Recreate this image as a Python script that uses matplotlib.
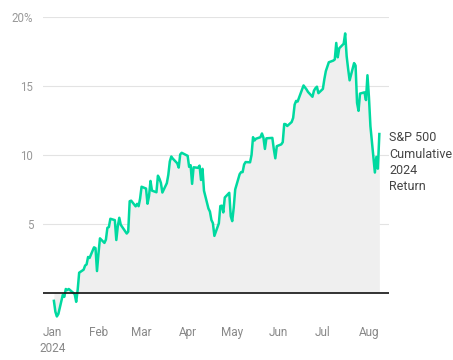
import matplotlib
matplotlib.use("Agg")
import matplotlib.pyplot as plt
import pandas as pd

plt.rcParams['font.family'] = ['Roboto', 'DejaVu Sans']

dates = [
    "2024-01-02", "2024-01-03", "2024-01-04", "2024-01-05", "2024-01-08", "2024-01-09",
    "2024-01-10", "2024-01-11", "2024-01-12", "2024-01-16", "2024-01-17", "2024-01-18",
    "2024-01-19", "2024-01-22", "2024-01-23", "2024-01-24", "2024-01-25", "2024-01-26",
    "2024-01-29", "2024-01-30", "2024-01-31", "2024-02-01", "2024-02-02", "2024-02-05",
    "2024-02-06", "2024-02-07", "2024-02-08", "2024-02-09", "2024-02-12", "2024-02-13",
    "2024-02-14", "2024-02-15", "2024-02-16", "2024-02-20", "2024-02-21", "2024-02-22",
    "2024-02-23", "2024-02-26", "2024-02-27", "2024-02-28", "2024-02-29", "2024-03-01",
    "2024-03-04", "2024-03-05", "2024-03-06", "2024-03-07", "2024-03-08", "2024-03-11",
    "2024-03-12", "2024-03-13", "2024-03-14", "2024-03-15", "2024-03-18", "2024-03-19",
    "2024-03-20", "2024-03-21", "2024-03-22", "2024-03-25", "2024-03-26", "2024-03-27",
    "2024-03-28", "2024-04-01", "2024-04-02", "2024-04-03", "2024-04-04", "2024-04-05",
    "2024-04-08", "2024-04-09", "2024-04-10", "2024-04-11", "2024-04-12", "2024-04-15",
    "2024-04-16", "2024-04-17", "2024-04-18", "2024-04-19", "2024-04-22", "2024-04-23",
    "2024-04-24", "2024-04-25", "2024-04-26", "2024-04-29", "2024-04-30", "2024-05-01",
    "2024-05-02", "2024-05-03", "2024-05-06", "2024-05-07", "2024-05-08", "2024-05-09",
    "2024-05-10", "2024-05-13", "2024-05-14", "2024-05-15", "2024-05-16", "2024-05-17",
    "2024-05-20", "2024-05-21", "2024-05-22", "2024-05-23", "2024-05-24", "2024-05-28",
    "2024-05-29", "2024-05-30", "2024-05-31", "2024-06-03", "2024-06-04", "2024-06-05",
    "2024-06-06", "2024-06-07", "2024-06-10", "2024-06-11", "2024-06-12", "2024-06-13",
    "2024-06-14", "2024-06-17", "2024-06-18", "2024-06-20", "2024-06-21", "2024-06-24",
    "2024-06-25", "2024-06-26", "2024-06-27", "2024-06-28", "2024-07-01", "2024-07-02",
    "2024-07-03", "2024-07-05", "2024-07-08", "2024-07-09", "2024-07-10", "2024-07-11",
    "2024-07-12", "2024-07-15", "2024-07-16", "2024-07-17", "2024-07-18", "2024-07-19",
    "2024-07-22", "2024-07-23", "2024-07-24", "2024-07-25", "2024-07-26", "2024-07-29",
    "2024-07-30", "2024-07-31", "2024-08-01", "2024-08-02", "2024-08-05", "2024-08-06",
    "2024-08-07", "2024-08-08",
]

returns = [
    -0.57, -1.36, -1.70, -1.52, -0.13, -0.28,
    0.29, 0.22, 0.29, -0.08, -0.64, 0.23,
    1.47, 1.69, 1.99, 2.07, 2.61, 2.54,
    3.31, 3.25, 1.59, 2.86, 3.96, 3.63,
    3.87, 4.72, 4.78, 5.38, 5.28, 3.84,
    4.84, 5.45, 4.94, 4.31, 4.44, 6.65,
    6.69, 6.28, 6.46, 6.29, 6.84, 7.70,
    7.57, 6.47, 7.02, 8.12, 7.42, 7.30,
    8.50, 8.29, 7.98, 7.28, 7.96, 8.57,
    9.53, 9.89, 9.74, 9.40, 9.09, 10.04,
    10.16, 9.94, 9.14, 9.26, 7.91, 9.11,
    9.07, 9.23, 8.19, 9.00, 7.41, 6.12,
    5.90, 5.29, 5.06, 4.14, 5.05, 6.30,
    6.33, 5.84, 6.92, 7.26, 5.57, 5.21,
    6.17, 7.50, 8.61, 8.76, 8.76, 9.31,
    9.49, 9.47, 10.00, 11.29, 11.05, 11.18,
    11.29, 11.56, 11.26, 10.44, 11.21, 11.24,
    10.42, 9.76, 10.64, 10.77, 10.93, 12.25,
    12.23, 12.10, 12.39, 12.69, 13.65, 13.92,
    13.87, 14.75, 15.04, 14.75, 14.57, 14.22,
    14.66, 14.84, 14.95, 14.48, 14.79, 15.50,
    16.08, 16.72, 16.84, 16.92, 18.12, 17.08,
    17.73, 18.06, 18.81, 17.16, 16.24, 15.41,
    16.66, 16.48, 13.78, 13.20, 14.45, 14.54,
    13.98, 15.78, 14.19, 12.09, 8.73, 9.86,
    9.01, 11.52,
]

month_ticks = ["2024-01-01", "2024-02-01", "2024-03-01", "2024-04-01",
               "2024-05-01", "2024-06-01", "2024-07-01", "2024-08-01"]
month_labels = ["Jan\n2024", "Feb", "Mar", "Apr", "May", "Jun", "Jul", "Aug"]
y_ticks = [5, 10, 15, 20]
y_labels = ["5", "10", "15", "20%"]
annotation = "S&P 500\nCumulative\n2024\nReturn"

x = pd.to_datetime(dates)
W, H = 453, 360
fig = plt.figure(figsize=(W / 100, H / 100), dpi=100)
left, right, top = 43, 389, 17
ymin, ymax = -2.2, 20
ppu = (293 - 17) / 20.0
bottom = 293 + (-ymin) * ppu
ax = fig.add_axes([left / W, 1 - bottom / H, (right - left) / W, (bottom - top) / H])

line_color = "#00d9a0"
ax.fill_between(x, returns, 0, color="#efefef", linewidth=0, zorder=1)
ax.plot(x, returns, color=line_color, linewidth=1.8, zorder=3, solid_joinstyle="round")
ax.axhline(0, color="#111111", linewidth=1.2, zorder=4)

ax.set_ylim(ymin, ymax)
xt = pd.to_datetime(month_ticks)
ax.set_xlim(pd.Timestamp("2023-12-25 16:00"), pd.Timestamp("2024-08-14 12:00"))
ax.set_xticks(xt)
ax.set_xticklabels(month_labels, color="#888888", fontsize=8.5, linespacing=1.3, va="top")
ax.set_yticks(y_ticks)
ax.set_yticklabels(y_labels, color="#999999", fontsize=8.3)
ax.tick_params(axis="x", length=0, pad=2)
ax.tick_params(axis="y", length=0, pad=7)
ax.grid(axis="y", color="#e3e3e3", linewidth=0.8, zorder=0)
ax.set_axisbelow(True)
for s in ax.spines.values():
    s.set_visible(False)

fig.text(389 / W, 1 - 131 / H, annotation, ha="left", va="top", fontsize=9,
         color="#444444", linespacing=1.35)

fig.savefig("out.png", dpi=100)
